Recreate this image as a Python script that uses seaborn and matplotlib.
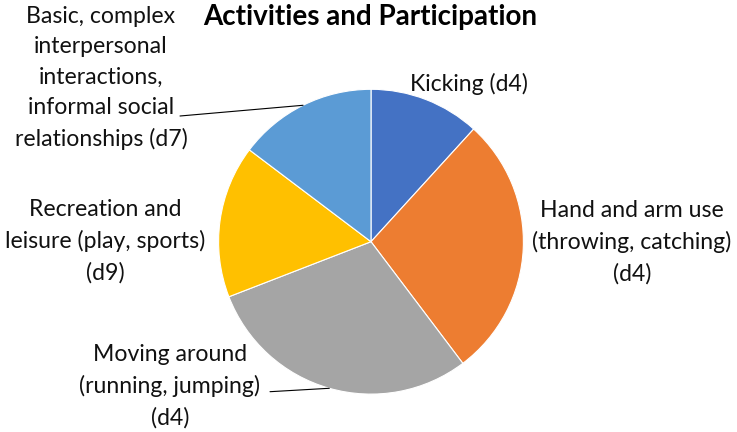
import numpy as np
import matplotlib
matplotlib.use("Agg")
import matplotlib.pyplot as plt
import seaborn as sns

categories = [
    "Kicking (d4)",
    "Hand and arm use\n(throwing, catching)\n(d4)",
    "Moving around\n(running, jumping)\n(d4)",
    "Recreation and\nleisure (play, sports)\n(d9)",
    "Basic, complex\ninterpersonal\ninteractions,\ninformal social\nrelationships (d7)",
]
values = [8, 19, 20, 11, 10]
colors = ["#4472C4", "#ED7D31", "#A5A5A5", "#FFC000", "#5B9BD5"]
title = "Activities and Participation"

sns.set_theme(style="white")
plt.rcParams['font.family'] = ['Lato', 'DejaVu Sans']

W, H = 737, 432
fig = plt.figure(figsize=(W / 100, H / 100), dpi=100)
cx, cy, r = 371, 241.7, 152.4
ax = fig.add_axes([(cx - r) / W, (H - cy - r) / H, 2 * r / W, 2 * r / H])
wedges, _ = ax.pie(values, colors=colors, startangle=90, counterclock=False, radius=1,
                   wedgeprops=dict(edgecolor='white', linewidth=0.8))
ax.set_xlim(-1, 1)
ax.set_ylim(-1, 1)
ax.set_aspect('equal')
ax.axis('off')


def px2data(px, py):
    return ((px - cx) / r, (cy - py) / r)


label_pos = [(469, 84), (632, 242), (170, 386), (105, 241), (101, 78)]
leaders = [None, None, (270, 391.7), None, (180, 116)]
for i, (lab, w) in enumerate(zip(categories, wedges)):
    x, y = px2data(*label_pos[i])
    ax.text(x, y, lab, ha='center', va='center', multialignment='center',
            fontsize=16.6, linespacing=1.55, clip_on=False, color='#111111')
    if leaders[i]:
        mid = np.deg2rad((w.theta1 + w.theta2) / 2)
        ex, ey = np.cos(mid), np.sin(mid)
        sx, sy = px2data(*leaders[i])
        ax.plot([sx, ex], [sy, ey], color='black', lw=0.8, clip_on=False)

fig.text(370 / W, 1 - 17 / H, title, ha='center', va='center', fontsize=20,
         fontweight='bold', color='black')
fig.savefig('out.png', dpi=100)
